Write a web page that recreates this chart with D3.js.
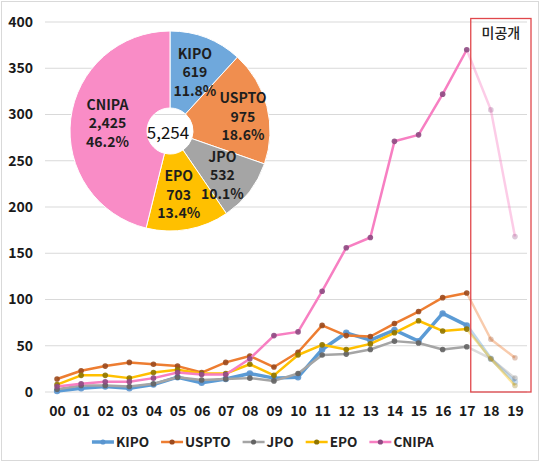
<!DOCTYPE html>
<html>
<head>
<meta charset="utf-8">
<script src="https://cdn.jsdelivr.net/npm/d3@7"></script>
<style>
  html, body { margin: 0; padding: 0; background: #fff; }
  text { font-family: "Noto Sans CJK KR", "Noto Sans", sans-serif; }
</style>
</head>
<body>
<div id="chart"></div>
<script>
// ---- data ----
const years = ["00","01","02","03","04","05","06","07","08","09",
               "10","11","12","13","14","15","16","17","18","19"];
const offices = ["KIPO", "USPTO", "JPO", "EPO", "CNIPA"];

const kipo  = [1, 4, 6, 4, 8, 16, 10, 14, 20, 15, 16, 46, 64, 56, 67, 55, 85, 72, 36, 11];
const uspto = [14, 23, 28, 32, 30, 28, 21, 32, 39, 27, 43, 72, 61, 60, 74, 87, 102, 107, 57, 37];
const jpo   = [3, 7, 7, 6, 9, 16, 13, 14, 15, 12, 20, 40, 41, 46, 55, 53, 46, 49, 36, 15];
const epo   = [8, 18, 18, 15, 21, 24, 20, 20, 30, 18, 40, 51, 46, 52, 64, 77, 66, 68, 36, 7];
const cnipa = [6, 9, 11, 11, 15, 21, 19, 19, 36, 61, 65, 109, 156, 167, 271, 278, 322, 370, 305, 168];

const totals   = [619, 975, 532, 703, 2425];
const totalAll = 5254;
const shares   = ["11.8%", "18.6%", "10.1%", "13.4%", "46.2%"];

const yTicks = [0, 50, 100, 150, 200, 250, 300, 350, 400];
const lastPublished = "17";   // years after this are not yet published
const boxLabel = "미공개";

// ---- styles ----
const lineColor   = ["#5b9bd5", "#ed7d31", "#a5a5a5", "#ffc000", "#f77fc2"];
const markerColor = ["#5a95cf", "#9b4a1e", "#636363", "#8f7400", "#8e4a82"];
const pieColor    = ["#6fa8dc", "#f08e4f", "#a5a5a5", "#ffc000", "#f98cc6"];
const lineWidth   = [3.5, 2.5, 2.5, 2.5, 2.5];
// small hand nudges for the pie labels, like the manual placement in the original
const labelNudge  = [[1, 3], [9, 2], [0, 4], [-3, -1], [3, 0]];

const width = 540, height = 462;

const svg = d3.select("#chart").append("svg")
  .attr("width", width)
  .attr("height", height)
  .style("display", "block");

// outer chart border
svg.append("rect")
  .attr("x", 1.5).attr("y", 1.5)
  .attr("width", width - 3).attr("height", height - 3)
  .attr("fill", "#fff")
  .attr("stroke", "#d9d9d9");

const x = d3.scalePoint().domain(years).range([45, 527]).padding(0.5);
const y = d3.scaleLinear().domain([0, 400]).range([392, 22]);

// grid
svg.append("g").selectAll("line")
  .data(yTicks)
  .join("line")
  .attr("x1", 45).attr("x2", 527)
  .attr("y1", d => y(d)).attr("y2", d => y(d))
  .attr("stroke", "#d9d9d9")
  .attr("stroke-width", 1);

// y axis labels
const yAxis = svg.append("g")
  .attr("transform", "translate(45,0)")
  .call(d3.axisLeft(y).tickValues(yTicks).tickSize(0).tickPadding(12));
yAxis.select(".domain").remove();
yAxis.selectAll("text")
  .attr("font-size", "14px")
  .attr("font-weight", "700")
  .attr("fill", "#1a1a1a")
  .attr("font-family", "'Noto Sans', sans-serif");

// x axis labels
const xAxis = svg.append("g")
  .attr("transform", "translate(0,392)")
  .call(d3.axisBottom(x).tickSize(0).tickPadding(14));
xAxis.select(".domain").remove();
xAxis.selectAll("text")
  .attr("font-size", "14px")
  .attr("font-weight", "700")
  .attr("fill", "#1a1a1a")
  .attr("font-family", "'Noto Sans', sans-serif");

// ---- lines ----
const seriesList = [kipo, uspto, jpo, epo, cnipa];
const cut = years.indexOf(lastPublished);

const line = d3.line()
  .x(d => x(d.year))
  .y(d => y(d.value));

const linesG = svg.append("g");
seriesList.forEach((vals, si) => {
  const pts = vals.map((v, i) => ({ year: years[i], value: v, i }));
  const g = linesG.append("g");

  // faded tail (unpublished years)
  g.append("path")
    .datum(pts.slice(cut))
    .attr("d", line)
    .attr("fill", "none")
    .attr("stroke", lineColor[si])
    .attr("stroke-width", lineWidth[si])
    .attr("stroke-linejoin", "round")
    .attr("opacity", 0.4);

  g.append("path")
    .datum(pts.slice(0, cut + 1))
    .attr("d", line)
    .attr("fill", "none")
    .attr("stroke", lineColor[si])
    .attr("stroke-width", lineWidth[si])
    .attr("stroke-linejoin", "round");

  g.selectAll("circle")
    .data(pts)
    .join("circle")
    .attr("cx", d => x(d.year))
    .attr("cy", d => y(d.value))
    .attr("r", si === 0 ? 3.2 : 2.8)
    .attr("fill", markerColor[si])
    .attr("opacity", d => d.i > cut ? 0.3 : 0.9);
});

// red "unpublished" box
const boxLeft = x(lastPublished) + 4;
svg.append("rect")
  .attr("x", boxLeft)
  .attr("y", 18.5)
  .attr("width", 531 - boxLeft)
  .attr("height", y(0) - 18.5)
  .attr("fill", "none")
  .attr("stroke", "#e0474c")
  .attr("stroke-width", 1.3);

svg.append("text")
  .attr("x", (boxLeft + 531) / 2)
  .attr("y", 38)
  .attr("text-anchor", "middle")
  .attr("font-size", "14px")
  .attr("font-weight", "500")
  .attr("fill", "#222")
  .text(boxLabel);

// ---- pie ----
const cx = 170, cy = 131;
const pie = d3.pie().sort(null).value(d => d.value);
const arcs = pie(offices.map((o, i) => ({ name: o, value: totals[i], share: shares[i], i })));
const arc = d3.arc().innerRadius(23).outerRadius(100);
const labelArc = d3.arc().innerRadius(66).outerRadius(66);

const pieG = svg.append("g").attr("transform", `translate(${cx},${cy})`);
pieG.selectAll("path")
  .data(arcs)
  .join("path")
  .attr("d", arc)
  .attr("fill", d => pieColor[d.data.i])
  .attr("stroke", "#fff")
  .attr("stroke-width", 1);

const labels = pieG.selectAll("g.lbl")
  .data(arcs)
  .join("g")
  .attr("class", "lbl")
  .attr("transform", d => {
    const [px, py] = labelArc.centroid(d);
    const [nx, ny] = labelNudge[d.data.i];
    return `translate(${px + nx},${py + ny})`;
  });

labels.each(function(d) {
  const t = d3.select(this).append("text")
    .attr("text-anchor", "middle")
    .attr("font-size", "14px")
    .attr("font-weight", "700")
    .attr("fill", "#1e1e1e")
    .attr("font-family", "'Noto Sans', sans-serif");
  const rows = [d.data.name, d3.format(",")(d.data.value), d.data.share];
  rows.forEach((r, k) => {
    t.append("tspan")
      .attr("x", 0)
      .attr("y", (k - 1) * 18.5 + 5)
      .text(r);
  });
});

pieG.append("text")
  .attr("x", -2).attr("y", 8)
  .attr("text-anchor", "middle")
  .attr("font-size", "17px")
  .attr("fill", "#111")
  .attr("font-family", "'Noto Sans', sans-serif")
  .text(d3.format(",")(totalAll));

// ---- legend ----
const legend = svg.append("g").attr("transform", "translate(0,442)");
const items = legend.selectAll("g")
  .data(offices)
  .join("g");

items.append("line")
  .attr("x1", 0).attr("x2", 22)
  .attr("stroke", (d, i) => lineColor[i])
  .attr("stroke-width", (d, i) => lineWidth[i]);
items.append("circle")
  .attr("cx", 11).attr("r", 2.6)
  .attr("fill", (d, i) => markerColor[i]);
items.append("text")
  .attr("x", 24)
  .attr("y", 5)
  .attr("font-size", "13.5px")
  .attr("font-weight", "700")
  .attr("fill", "#222")
  .attr("font-family", "'Noto Sans', sans-serif")
  .text(d => d);

// lay out legend items side by side, centred
const gap = 12;
const widths = [];
items.each(function() { widths.push(this.getBBox().width); });
const totalW = d3.sum(widths) + gap * (widths.length - 1);
let pos = 263 - totalW / 2;
items.attr("transform", (d, i) => {
  const t = `translate(${pos},0)`;
  pos += widths[i] + gap;
  return t;
});
</script>
</body>
</html>
